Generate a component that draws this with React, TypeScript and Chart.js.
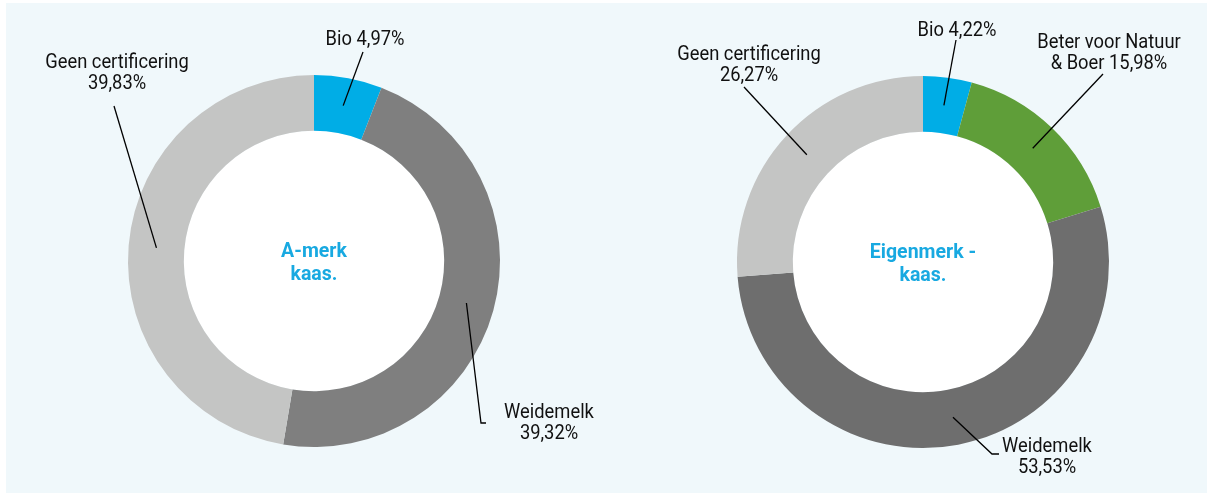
import React, { useEffect, useRef } from "react";
import { Chart, registerables } from "chart.js";

Chart.register(...registerables);

// ---- data ----
const categoriesA = ["Bio", "Weidemelk", "Geen certificering"];
const valuesA = [4.97, 39.32, 39.83];
const colorsA = ["#00ade6", "#7f7f7f", "#c4c5c4"];
const nameLinesA = [["Bio"], ["Weidemelk", ""], ["Geen certificering", ""]];
const centerTitleA = ["A-merk", "kaas."];

const categoriesB = ["Bio", "Beter voor Natuur & Boer", "Weidemelk", "Geen certificering"];
const valuesB = [4.22, 15.98, 53.53, 26.27];
const colorsB = ["#00ade6", "#5f9e39", "#6e6e6e", "#c4c5c4"];
const nameLinesB = [["Bio"], ["Beter voor Natuur", "& Boer"], ["Weidemelk", ""], ["Geen certificering", ""]];
const centerTitleB = ["Eigenmerk -", "kaas."];

// ---- callout placement (relative to the doughnut centre) ----
type Callout = { tx: number; ty: number; path: [number, number][] };
const calloutsA: Callout[] = [
  { tx: 51, ty: -221, path: [[49, -209]] },
  { tx: 235, ty: 152, path: [[167, 162], [172, 162]] },
  { tx: -197, ty: -198, path: [[-200, -155]] },
];
const calloutsB: Callout[] = [
  { tx: 34, ty: -231, path: [[33, -222]] },
  { tx: 186, ty: -219, path: [[180, -188]] },
  { tx: 124, ty: 185, path: [[69, 192], [76, 192]] },
  { tx: -174, ty: -207, path: [[-179, -175]] },
];

const fmt = (v: number) => v.toFixed(2).replace(".", ",") + "%";

function buildLines(names: string[][], values: number[]) {
  return names.map((lines, i) => {
    const out = lines.slice();
    const last = out.length - 1;
    out[last] = (out[last] ? out[last] + " " : "") + fmt(values[i]);
    return out;
  });
}

const LABEL_FONT = "19.5px Roboto";
const LABEL_SQUEEZE = 0.94;
const CENTER_FONT = "bold 21px Roboto";
const CENTER_SQUEEZE = 0.93;
const LINE_H = 21.5;

function squeezedText(ctx: CanvasRenderingContext2D, t: string, x: number, y: number, sx: number) {
  ctx.save();
  ctx.translate(x, y);
  ctx.scale(sx, 1);
  ctx.fillText(t, 0, 0);
  ctx.restore();
}

const calloutPlugin = {
  id: "callouts",
  beforeDatasetsDraw(chart: any) {
    const arc = chart.getDatasetMeta(0).data[0];
    if (!arc) return;
    const { x, y, innerRadius } = arc.getProps(["x", "y", "innerRadius"], true);
    const ctx = chart.ctx;
    ctx.save();
    ctx.fillStyle = "#ffffff";
    ctx.beginPath();
    ctx.arc(x, y, innerRadius, 0, Math.PI * 2);
    ctx.fill();
    ctx.restore();
  },
  afterDatasetsDraw(chart: any, _args: any, opts: any) {
    const meta = chart.getDatasetMeta(0);
    const arcs = meta.data;
    if (!arcs.length) return;
    const { x: cx, y: cy } = arcs[0].getProps(["x", "y"], true);
    const ctx = chart.ctx;
    ctx.save();
    // leader lines
    ctx.strokeStyle = "#000000";
    ctx.lineWidth = 1.3;
    opts.callouts.forEach((c: Callout, i: number) => {
      const p = arcs[i].getCenterPoint(true);
      ctx.beginPath();
      ctx.moveTo(p.x, p.y);
      c.path.forEach(([dx, dy]) => ctx.lineTo(cx + dx, cy + dy));
      ctx.stroke();
    });
    // labels
    ctx.fillStyle = "#111111";
    ctx.font = LABEL_FONT;
    ctx.textAlign = "center";
    ctx.textBaseline = "middle";
    opts.lines.forEach((lines: string[], i: number) => {
      const c: Callout = opts.callouts[i];
      lines.forEach((t, k) => squeezedText(ctx, t, cx + c.tx, cy + c.ty + k * LINE_H, LABEL_SQUEEZE));
    });
    // centre title
    ctx.fillStyle = "#18a9e1";
    ctx.font = CENTER_FONT;
    const title: string[] = opts.title;
    title.forEach((t, k) => squeezedText(ctx, t, cx, cy - 9 + k * 23, CENTER_SQUEEZE));
    ctx.restore();
  },
};

type DonutProps = {
  left: number;
  width: number;
  height: number;
  labels: string[];
  values: number[];
  colors: string[];
  names: string[][];
  callouts: Callout[];
  title: string[];
  padding: { left: number; right: number; top: number; bottom: number };
};

function Donut(props: DonutProps) {
  const ref = useRef<HTMLCanvasElement>(null);
  useEffect(() => {
    const chart = new Chart(ref.current as HTMLCanvasElement, {
      type: "doughnut",
      data: {
        labels: props.labels,
        datasets: [
          {
            data: props.values,
            backgroundColor: props.colors,
            borderWidth: 0,
            hoverOffset: 0,
            radius: 186,
            cutout: "70%",
          } as any,
        ],
      },
      options: {
        responsive: false,
        maintainAspectRatio: false,
        animation: false,
        events: [],
        layout: { padding: props.padding },
        plugins: {
          legend: { display: false },
          tooltip: { enabled: false },
          callouts: {
            callouts: props.callouts,
            lines: buildLines(props.names, props.values),
            title: props.title,
          },
        } as any,
      },
      plugins: [calloutPlugin],
    });
    return () => chart.destroy();
  }, []);
  return (
    <canvas
      ref={ref}
      width={props.width}
      height={props.height}
      style={{ position: "absolute", left: props.left, top: 0, width: props.width, height: props.height }}
    />
  );
}

export default function App() {
  return (
    <div style={{ position: "absolute", left: 0, top: 0, width: 1210, height: 494, background: "#ffffff", overflow: "hidden" }}>
      <div style={{ position: "absolute", left: 6, top: 3, width: 1201, height: 490, background: "#f0f8fb" }} />
      <Donut
        left={0}
        width={605}
        height={494}
        labels={categoriesA}
        values={valuesA}
        colors={colorsA}
        names={nameLinesA}
        callouts={calloutsA}
        title={centerTitleA}
        padding={{ left: 23, right: 0, top: 28, bottom: 0 }}
      />
      <Donut
        left={605}
        width={605}
        height={494}
        labels={categoriesB}
        values={valuesB}
        colors={colorsB}
        names={nameLinesB}
        callouts={calloutsB}
        title={centerTitleB}
        padding={{ left: 31, right: 0, top: 30, bottom: 0 }}
      />
    </div>
  );
}
